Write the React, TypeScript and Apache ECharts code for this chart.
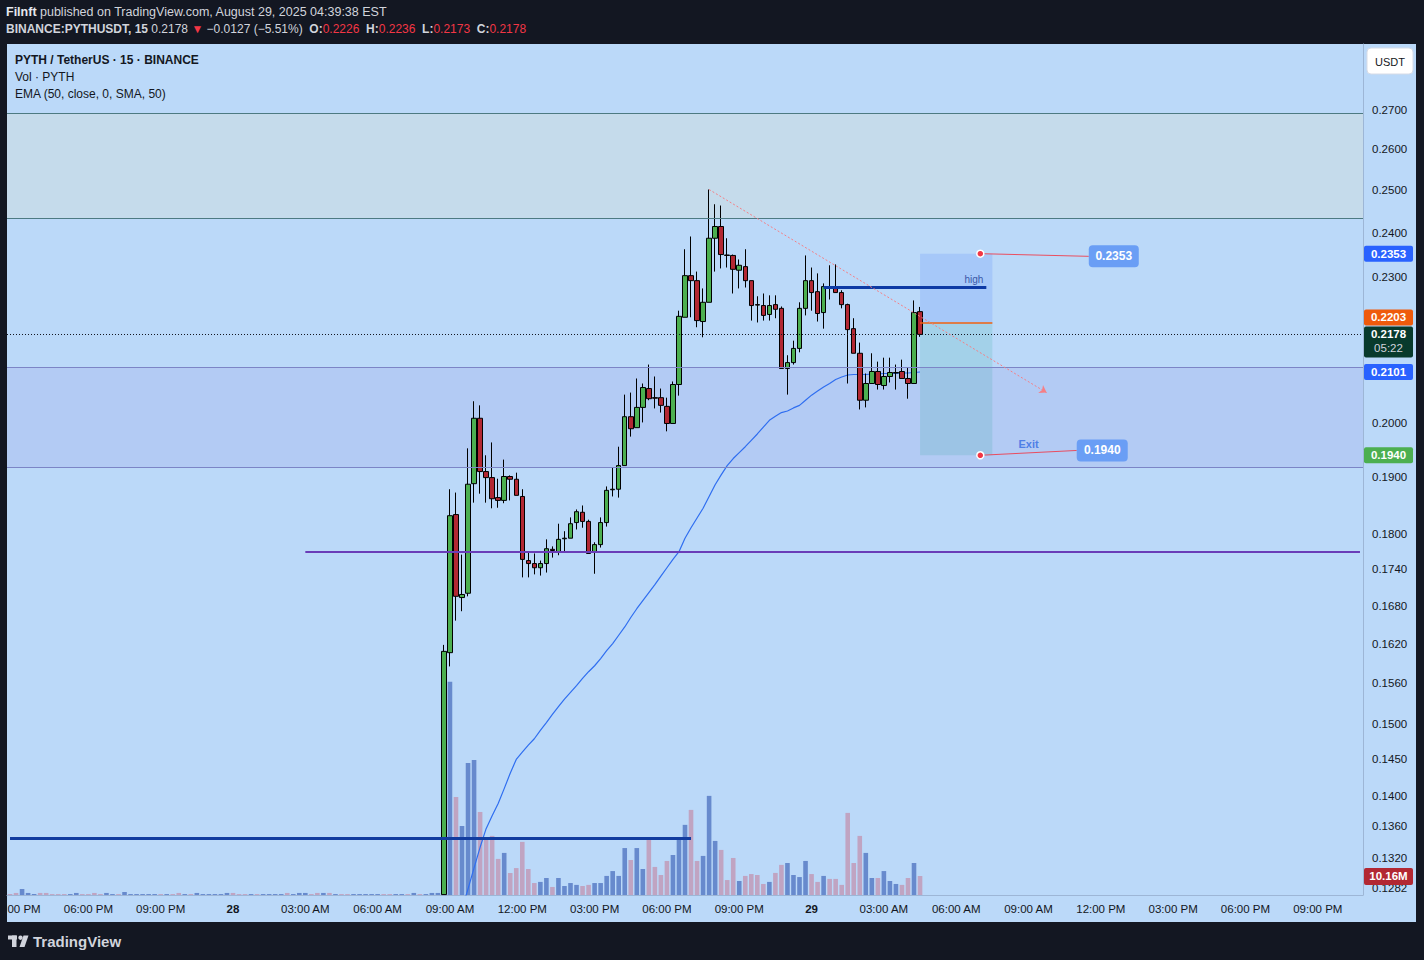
import React, { useEffect, useRef } from 'react';
import * as echarts from 'echarts';

const FONT = '"Liberation Sans", Arial, Helvetica, sans-serif';
const SLOT_MS = 15 * 60 * 1000;
const START_MS = Date.UTC(2025, 7, 27, 14, 45); // Aug 27, 02:45 PM (EST wall clock)
const SLOT_COUNT = 225;
const FIRST_CANDLE = 72;
const FIRST_EMA = 74;

// [open, close, low, high] for slots 72..151 (slot 72 opens below the visible range)
const candles: number[][] = [
  [0.1274, 0.1608, 0.1274, 0.1618],
  [0.1606, 0.1831, 0.1585, 0.1878],
  [0.1833, 0.1695, 0.1656, 0.1872],
  [0.1693, 0.1698, 0.1671, 0.1764],
  [0.1700, 0.1887, 0.1695, 0.1953],
  [0.1888, 0.2010, 0.1854, 0.2043],
  [0.2010, 0.1910, 0.1870, 0.2035],
  [0.1910, 0.1899, 0.1854, 0.1940],
  [0.1899, 0.1861, 0.1844, 0.1964],
  [0.1863, 0.1858, 0.1845, 0.1897],
  [0.1858, 0.1901, 0.1853, 0.1932],
  [0.1901, 0.1896, 0.1858, 0.1903],
  [0.1896, 0.1867, 0.1867, 0.1908],
  [0.1865, 0.1756, 0.1726, 0.1878],
  [0.1754, 0.1749, 0.1726, 0.1768],
  [0.1749, 0.1742, 0.1731, 0.1766],
  [0.1742, 0.1749, 0.1729, 0.1754],
  [0.1749, 0.1774, 0.1734, 0.1790],
  [0.1773, 0.1771, 0.1759, 0.1778],
  [0.1769, 0.1790, 0.1763, 0.1817],
  [0.1791, 0.1792, 0.1769, 0.1804],
  [0.1792, 0.1817, 0.1792, 0.1828],
  [0.1819, 0.1838, 0.1807, 0.1842],
  [0.1837, 0.1821, 0.1810, 0.1849],
  [0.1821, 0.1766, 0.1766, 0.1824],
  [0.1768, 0.1781, 0.1732, 0.1785],
  [0.1781, 0.1819, 0.1776, 0.1828],
  [0.1819, 0.1876, 0.1812, 0.1883],
  [0.1877, 0.1878, 0.1865, 0.1918],
  [0.1878, 0.1921, 0.1863, 0.1956],
  [0.1921, 0.2013, 0.1921, 0.2056],
  [0.2013, 0.1990, 0.1975, 0.2060],
  [0.1992, 0.2031, 0.1992, 0.2088],
  [0.2031, 0.2070, 0.2002, 0.2078],
  [0.2068, 0.2048, 0.2045, 0.2116],
  [0.2050, 0.2049, 0.2029, 0.2092],
  [0.2050, 0.2035, 0.2021, 0.2068],
  [0.2033, 0.2000, 0.1985, 0.2050],
  [0.2000, 0.2076, 0.2000, 0.2082],
  [0.2076, 0.2216, 0.2054, 0.2228],
  [0.2214, 0.2304, 0.2214, 0.2363],
  [0.2304, 0.2293, 0.2214, 0.2392],
  [0.2293, 0.2207, 0.2193, 0.2313],
  [0.2205, 0.2246, 0.2172, 0.2276],
  [0.2246, 0.2388, 0.2246, 0.2502],
  [0.2388, 0.2415, 0.2313, 0.2467],
  [0.2415, 0.2351, 0.2320, 0.2464],
  [0.2350, 0.2349, 0.2322, 0.2388],
  [0.2349, 0.2318, 0.2265, 0.2351],
  [0.2316, 0.2327, 0.2276, 0.2340],
  [0.2324, 0.2293, 0.2278, 0.2363],
  [0.2293, 0.2239, 0.2207, 0.2293],
  [0.2241, 0.2240, 0.2203, 0.2259],
  [0.2239, 0.2218, 0.2207, 0.2265],
  [0.2220, 0.2239, 0.2207, 0.2261],
  [0.2241, 0.2231, 0.2212, 0.2261],
  [0.2233, 0.2108, 0.2108, 0.2237],
  [0.2108, 0.2120, 0.2056, 0.2135],
  [0.2120, 0.2149, 0.2116, 0.2165],
  [0.2149, 0.2233, 0.2141, 0.2246],
  [0.2233, 0.2293, 0.2218, 0.2349],
  [0.2293, 0.2267, 0.2228, 0.2322],
  [0.2269, 0.2222, 0.2205, 0.2309],
  [0.2224, 0.2280, 0.2190, 0.2287],
  [0.2278, 0.2276, 0.2252, 0.2327],
  [0.2276, 0.2267, 0.2267, 0.2329],
  [0.2267, 0.2241, 0.2233, 0.2272],
  [0.2241, 0.2188, 0.2078, 0.2243],
  [0.2190, 0.2139, 0.2139, 0.2212],
  [0.2139, 0.2045, 0.2027, 0.2161],
  [0.2045, 0.2078, 0.2031, 0.2098],
  [0.2078, 0.2102, 0.2078, 0.2139],
  [0.2102, 0.2076, 0.2066, 0.2122],
  [0.2074, 0.2092, 0.2066, 0.2130],
  [0.2092, 0.2100, 0.2080, 0.2130],
  [0.2099, 0.2100, 0.2066, 0.2116],
  [0.2102, 0.2088, 0.2088, 0.2126],
  [0.2088, 0.2078, 0.2048, 0.2110],
  [0.2078, 0.2224, 0.2078, 0.2250],
  [0.2226, 0.2178, 0.2173, 0.2236],
];

// EMA(50) for slots 74..151
const emaValues: number[] = [
  0.1232, 0.1257, 0.1281, 0.1307, 0.1333, 0.1357, 0.1374, 0.1390, 0.1410, 0.1431,
  0.1450, 0.1460, 0.1470, 0.1479, 0.1491, 0.1502, 0.1514, 0.1525, 0.1536, 0.1546,
  0.1556, 0.1567, 0.1577, 0.1586, 0.1597, 0.1609, 0.1620, 0.1633, 0.1646, 0.1661,
  0.1675, 0.1688, 0.1701, 0.1714, 0.1728, 0.1742, 0.1756, 0.1769, 0.1792, 0.1810,
  0.1827, 0.1844, 0.1865, 0.1886, 0.1904, 0.1921, 0.1934, 0.1945, 0.1956, 0.1968,
  0.1980, 0.1993, 0.2006, 0.2014, 0.2021, 0.2024, 0.2030, 0.2035, 0.2045, 0.2055,
  0.2063, 0.2071, 0.2078, 0.2086, 0.2091, 0.2095, 0.2096, 0.2096, 0.2096, 0.2097,
  0.2097, 0.2098, 0.2098, 0.2098, 0.2099, 0.2099, 0.2100, 0.2101,
];

// volume in millions, slots 0..151
const volumes: number[] = [
  0.5, 1.1, 3.2, 1.1, 0.5, 1.1, 1.1, 0.5, 0.5, 0.5,
  0.5, 1.1, 0.5, 0.5, 1.1, 0.5, 1.1, 0.5, 0.5, 1.6,
  0.5, 0.5, 0.5, 0.5, 0.5, 0.5, 0.5, 0.5, 1.1, 0.5,
  0.5, 1.1, 0.5, 0.5, 0.5, 0.5, 1.1, 1.1, 0.5, 0.5,
  0.5, 0.5, 0.5, 0.5, 0.5, 0.5, 1.1, 0.5, 1.1, 1.1,
  0.5, 1.1, 1.1, 1.1, 0.5, 0.5, 0.5, 0.5, 0.5, 0.5,
  0.5, 0.5, 0.5, 0.5, 0.5, 0.5, 0.5, 1.1, 0.5, 0.5,
  1.1, 1.1,
  64.0, 114.0, 52.4, 36.9, 70.6, 72.2, 44.4, 31.0, 31.6, 19.3,
  22.5, 11.8, 14.4, 28.4, 13.9, 6.4, 7.0, 9.1, 4.3, 9.1,
  4.8, 6.4, 5.4, 4.8, 5.4, 6.4, 6.4, 10.2, 12.8, 10.2,
  25.1, 18.7, 25.1, 13.9, 30.0, 15.0, 10.7, 18.2, 21.4, 30.0,
  37.5, 45.5, 18.2, 20.9, 53.0, 28.9, 24.1, 8.0, 19.8, 7.5,
  10.2, 11.2, 10.7, 5.9, 7.0, 11.8, 16.1, 17.1, 10.7, 9.6,
  18.2, 11.2, 7.0, 10.2, 8.6, 8.6, 5.4, 43.9, 17.1, 31.6,
  22.5, 9.1, 9.1, 12.8, 7.5, 5.9, 5.4, 9.1, 17.1, 10.16,
];

// direction of the early (off-scale) bars: 1 = up, 0 = down
const earlyVolUp: number[] = [
  0, 0, 1, 1, 1, 0, 0, 0, 0, 0, 1, 1, 0, 0, 0, 0, 1, 1, 0, 1,
  1, 1, 1, 1, 1, 0, 1, 0, 0, 1, 0, 1, 1, 1, 1, 1, 1, 0, 0, 0,
  1, 0, 1, 1, 1, 1, 0, 1, 1, 1, 0, 0, 1, 0, 1, 0, 0, 1, 1, 1,
  1, 1, 0, 0, 1, 1, 0, 1, 0, 1, 1, 1,
];

const priceTicks: number[] = [
  0.27, 0.26, 0.25, 0.24, 0.23, 0.20, 0.19, 0.18, 0.174, 0.168,
  0.162, 0.156, 0.15, 0.145, 0.14, 0.136, 0.132, 0.1282,
];

const topZone = [0.2691, 0.2434];
const lowerZone = [0.2110, 0.1918];
const purpleLevel = 0.1769;
const blueLevel = 0.1345;
const highLevel = 0.2279;
const entryLevel = 0.2203;
const stopLevel = 0.2353;
const targetLevel = 0.1940;
const lastPrice = 0.2178;
const lastVolume = 10.16;
const emaLast = 0.2101;
const trendStart = [116, 0.2502];
const trendEnd = [172, 0.2060];
const calloutTopEnd = [179, 0.2347];
const calloutBottomEnd = [177, 0.1949];
const exitPoint = [169, 0.1962];

const UP = '#4caf50';
const DOWN = '#b22833';
const VOL_UP = '#678acd';
const VOL_DOWN = '#c0a4c2';
const BG = '#bbd9f9';
const DARK = '#131722';

const categories = Array.from({ length: SLOT_COUNT }, (_, i) =>
  new Date(START_MS + i * SLOT_MS).toISOString().slice(0, 16)
);

function timeLabel(i: number): string {
  const d = new Date(START_MS + i * SLOT_MS);
  const h = d.getUTCHours();
  const m = d.getUTCMinutes();
  if (h === 0 && m === 0) return `{d|${d.getUTCDate()}}`;
  const hh = h % 12 === 0 ? 12 : h % 12;
  const ampm = h < 12 ? 'AM' : 'PM';
  // the first label sits at the pane's left edge: only its tail is visible
  if (i === 1) return `{c|${String(m).padStart(2, '0')} ${ampm}}`;
  return `${String(hh).padStart(2, '0')}:${String(m).padStart(2, '0')} ${ampm}`;
}

export default function App() {
  const ref = useRef<HTMLDivElement>(null);

  useEffect(() => {
    document.body.style.margin = '0';
    const chart = echarts.init(ref.current!, null, { renderer: 'svg' });

    const candleData = categories.map((_, i) => {
      const c = candles[i - FIRST_CANDLE];
      return c ? c : ['-', '-', '-', '-'];
    });
    const emaData = categories.map((_, i) =>
      i >= FIRST_EMA && i < FIRST_EMA + emaValues.length ? emaValues[i - FIRST_EMA] : '-'
    );
    const volData = volumes.map((v, i) => {
      let up: boolean;
      if (i < FIRST_CANDLE) up = earlyVolUp[i] === 1;
      else {
        const c = candles[i - FIRST_CANDLE];
        up = c[1] >= c[0];
      }
      return { value: v, itemStyle: { color: up ? VOL_UP : VOL_DOWN } };
    });

    const hLine = (v: number, color: string) => ({ yAxis: v, lineStyle: { color, width: 1, type: 'solid' } });

    const option: any = {
      animation: false,
      backgroundColor: DARK,
      textStyle: { fontFamily: FONT },
      grid: { left: 7, right: 61, top: 44, bottom: 65, containLabel: false, outerBoundsMode: 'none' },
      xAxis: {
        type: 'category',
        data: categories,
        boundaryGap: true,
        axisLine: { show: true, lineStyle: { color: '#9db6d6', width: 1 } },
        axisTick: { show: false },
        splitLine: { show: false },
        axisLabel: {
          interval: (index: number) => index % 12 === 1,
          formatter: (_v: string, index: number) => timeLabel(index),
          color: DARK,
          fontSize: 11.5,
          fontFamily: FONT,
          margin: 8,
          hideOverlap: false,
          rich: {
            d: { fontWeight: 'bold', fontSize: 11.5, fontFamily: FONT, color: DARK },
            c: { fontSize: 11.5, fontFamily: FONT, color: DARK, padding: [0, 0, 0, 16] },
          },
        },
      },
      yAxis: [
        {
          type: 'log',
          logBase: 10,
          min: 0.12735,
          max: 0.2876,
          position: 'right',
          axisLine: { show: true, lineStyle: { color: '#9db6d6', width: 1 } },
          axisTick: { show: false },
          axisLabel: { show: false },
          splitLine: { show: false },
        },
        {
          type: 'value',
          min: 0,
          max: 455,
          show: false,
          splitLine: { show: false },
        },
      ],
      series: [
        {
          type: 'line',
          name: 'zones',
          data: [],
          z: 1,
          silent: true,
          markArea: {
            silent: true,
            data: [
              [{ yAxis: topZone[0], itemStyle: { color: '#c5dbeb' } }, { yAxis: topZone[1] }],
              [{ yAxis: lowerZone[0], itemStyle: { color: '#b3cbf4' } }, { yAxis: lowerZone[1] }],
              [
                { coord: [151, stopLevel], itemStyle: { color: 'rgba(41,98,255,0.14)' } },
                { coord: [163, entryLevel] },
              ],
              [
                { coord: [151, entryLevel], itemStyle: { color: 'rgba(8,153,129,0.13)' } },
                { coord: [163, targetLevel] },
              ],
            ],
          },
          markLine: {
            silent: true,
            symbol: ['none', 'none'],
            precision: 4,
            label: { show: false },
            data: [
              hLine(topZone[0], '#4d7a82'),
              hLine(topZone[1], '#4d7a82'),
              hLine(lowerZone[0], '#7c85c6'),
              hLine(lowerZone[1], '#7c85c6'),
            ],
          },
        },
        {
          type: 'bar',
          name: 'Vol',
          xAxisIndex: 0,
          yAxisIndex: 1,
          data: volData,
          barWidth: 4.6,
          z: 2,
          silent: true,
        },
        {
          type: 'line',
          name: 'EMA',
          data: emaData,
          yAxisIndex: 0,
          symbol: 'none',
          smooth: false,
          lineStyle: { color: '#2f6ef0', width: 1.2 },
          z: 3,
          silent: true,
        },
        {
          type: 'candlestick',
          name: 'PYTHUSDT',
          data: candleData,
          yAxisIndex: 0,
          barWidth: 5,
          clip: true,
          z: 4,
          silent: true,
          itemStyle: {
            color: UP,
            color0: DOWN,
            borderColor: '#000000',
            borderColor0: '#000000',
            borderWidth: 1,
          },
        },
        {
          type: 'line',
          name: 'drawings',
          data: [],
          z: 5,
          silent: true,
          markLine: {
            silent: true,
            symbol: ['none', 'none'],
            precision: 4,
            label: { show: false },
            data: [
              { yAxis: lastPrice, lineStyle: { color: DARK, width: 1, type: [1, 2] } },
              [
                { coord: [49, purpleLevel], lineStyle: { color: '#6a3db8', width: 2, type: 'solid' } },
                { coord: [224, purpleLevel] },
              ],
              [
                { coord: [0, blueLevel], lineStyle: { color: '#123c9f', width: 3, type: 'solid' } },
                { coord: [113, blueLevel] },
              ],
              [
                {
                  coord: [135, highLevel],
                  lineStyle: { color: '#0d3aa5', width: 3, type: 'solid' },
                  label: {
                    show: true,
                    formatter: 'high',
                    position: 'insideEndTop',
                    color: '#3a58a8',
                    fontSize: 10,
                    fontFamily: FONT,
                    distance: 3,
                  },
                },
                { coord: [162, highLevel] },
              ],
              [
                { coord: [151, entryLevel], lineStyle: { color: '#f06010', width: 1.5, type: 'solid' } },
                { coord: [163, entryLevel] },
              ],
              [
                { coord: trendStart, symbol: 'none', lineStyle: { color: '#f57f86', width: 1, type: [2, 2] } },
                { coord: trendEnd, symbol: 'arrow', symbolSize: 7 },
              ],
              [
                { coord: [161, stopLevel], lineStyle: { color: '#f23645', width: 1, type: 'solid', opacity: 0.85 } },
                { coord: calloutTopEnd },
              ],
              [
                { coord: [161, targetLevel], lineStyle: { color: '#f23645', width: 1, type: 'solid', opacity: 0.85 } },
                { coord: calloutBottomEnd },
              ],
            ],
          },
          markPoint: {
            silent: true,
            symbol: 'circle',
            symbolSize: 7,
            label: { show: false },
            itemStyle: { color: '#f23645', borderColor: '#ffffff', borderWidth: 1.5 },
            data: [{ coord: [161, stopLevel] }, { coord: [161, targetLevel] }],
          },
        },
      ],
    };

    chart.setOption(option);

    const py = (p: number) => chart.convertToPixel({ yAxisIndex: 0 }, p) as number;
    const vy = (v: number) => chart.convertToPixel({ yAxisIndex: 1 }, v) as number;
    const px = (i: number) => chart.convertToPixel({ xAxisIndex: 0 }, i) as number;

    const els: any[] = [];
    els.push({ type: 'rect', z: -1, silent: true, shape: { x: 7, y: 44, width: 1409, height: 878 }, style: { fill: BG } });

    // header
    els.push({
      type: 'text', x: 6, y: 12, z: 100, silent: true,
      style: {
        text: '{b|Filnft} {n|published on TradingView.com, August 29, 2025 04:39:38 EST}',
        verticalAlign: 'middle', fontSize: 12.5, fontFamily: FONT, fill: '#d1d4dc',
        rich: {
          b: { fill: '#e6e8ee', fontWeight: 'bold', fontSize: 12.5, fontFamily: FONT },
          n: { fill: '#d1d4dc', fontSize: 12.5, fontFamily: FONT },
        },
      },
    });
    els.push({
      type: 'text', x: 6, y: 29, z: 100, silent: true,
      style: {
        text: '{b|BINANCE:PYTHUSDT, 15} {n|0.2178}{r| ▼} {n|−0.0127 (−5.51%)}  {b|O:}{r|0.2226}  {b|H:}{r|0.2236}  {b|L:}{r|0.2173}  {b|C:}{r|0.2178}',
        verticalAlign: 'middle', fontSize: 12, fontFamily: FONT, fill: '#d1d4dc',
        rich: {
          b: { fill: '#d1d4dc', fontWeight: 'bold', fontSize: 12, fontFamily: FONT },
          n: { fill: '#d1d4dc', fontSize: 12, fontFamily: FONT },
          r: { fill: '#f23645', fontSize: 12, fontFamily: FONT },
        },
      },
    });

    // legend
    const legend = [
      { t: 'PYTH / TetherUS · 15 · BINANCE', y: 60, w: 'bold' },
      { t: 'Vol · PYTH', y: 77, w: 'normal' },
      { t: 'EMA (50, close, 0, SMA, 50)', y: 94, w: 'normal' },
    ];
    legend.forEach((l) =>
      els.push({
        type: 'text', x: 15, y: l.y, z: 100, silent: true,
        style: { text: l.t, fill: DARK, fontSize: 12, fontWeight: l.w, fontFamily: FONT, verticalAlign: 'middle' },
      })
    );

    // price axis tick labels
    priceTicks.forEach((t) =>
      els.push({
        type: 'text', x: 1372, y: py(t), z: 50, silent: true,
        style: { text: t.toFixed(4), fill: DARK, fontSize: 11.5, fontFamily: FONT, verticalAlign: 'middle' },
      })
    );

    // USDT button
    els.push({ type: 'rect', z: 60, silent: true, shape: { x: 1367, y: 48, width: 46, height: 26, r: 4 }, style: { fill: '#ffffff', stroke: '#d6dbe6', lineWidth: 1 } });
    els.push({ type: 'text', x: 1390, y: 61.5, z: 61, silent: true, style: { text: 'USDT', fill: DARK, fontSize: 11, fontFamily: FONT, align: 'center', verticalAlign: 'middle' } });

    // price axis boxes
    const box = (cy: number, text: string, color: string) => {
      els.push({ type: 'rect', z: 70, silent: true, shape: { x: 1364, y: cy - 8, width: 49, height: 16, r: 2 }, style: { fill: color } });
      els.push({ type: 'text', x: 1388.5, y: cy, z: 71, silent: true, style: { text, fill: '#ffffff', fontSize: 11.5, fontWeight: 'bold', fontFamily: FONT, align: 'center', verticalAlign: 'middle' } });
    };
    box(py(stopLevel), stopLevel.toFixed(4), '#2962ff');
    box(py(entryLevel) - 5, entryLevel.toFixed(4), '#ef5a0c');
    box(py(emaLast), emaLast.toFixed(4), '#2962ff');
    box(py(targetLevel), targetLevel.toFixed(4), '#4caf50');

    const lp = py(lastPrice);
    els.push({ type: 'rect', z: 70, silent: true, shape: { x: 1364, y: lp - 8, width: 49, height: 31, r: 2 }, style: { fill: '#083a2c' } });
    els.push({ type: 'text', x: 1388.5, y: lp, z: 71, silent: true, style: { text: lastPrice.toFixed(4), fill: '#ffffff', fontSize: 11.5, fontWeight: 'bold', fontFamily: FONT, align: 'center', verticalAlign: 'middle' } });
    els.push({ type: 'text', x: 1388.5, y: lp + 14, z: 71, silent: true, style: { text: '05:22', fill: '#d1d4dc', fontSize: 11.5, fontFamily: FONT, align: 'center', verticalAlign: 'middle' } });

    const lv = vy(lastVolume);
    els.push({ type: 'rect', z: 70, silent: true, shape: { x: 1364, y: lv - 8, width: 49, height: 17, r: 2 }, style: { fill: DOWN } });
    els.push({ type: 'text', x: 1388.5, y: lv + 0.5, z: 71, silent: true, style: { text: '10.16M', fill: '#ffffff', fontSize: 11.5, fontWeight: 'bold', fontFamily: FONT, align: 'center', verticalAlign: 'middle' } });

    // callout boxes on the chart
    const callout = (i: number, p: number, text: string, w: number) => {
      const x = px(i);
      const y = py(p);
      els.push({ type: 'rect', z: 80, silent: true, shape: { x, y: y - 11, width: w, height: 22, r: 4 }, style: { fill: '#6a9ef5' } });
      els.push({ type: 'text', x: x + w / 2, y, z: 81, silent: true, style: { text, fill: '#ffffff', fontSize: 12, fontWeight: 'bold', fontFamily: FONT, align: 'center', verticalAlign: 'middle' } });
    };
    callout(calloutTopEnd[0], calloutTopEnd[1], stopLevel.toFixed(4), 50);
    callout(calloutBottomEnd[0], calloutBottomEnd[1], targetLevel.toFixed(4), 51);
    els.push({ type: 'text', x: px(exitPoint[0]), y: py(exitPoint[1]), z: 81, silent: true, style: { text: 'Exit', fill: '#4f7fe6', fontSize: 11, fontWeight: 'bold', fontFamily: FONT, align: 'center', verticalAlign: 'middle' } });

    // TradingView logo
    els.push({ type: 'rect', z: 100, silent: true, shape: { x: 8, y: 935.5, width: 9, height: 4 }, style: { fill: '#d1d4dc' } });
    els.push({ type: 'rect', z: 100, silent: true, shape: { x: 12, y: 935.5, width: 4.5, height: 11.5 }, style: { fill: '#d1d4dc' } });
    els.push({ type: 'circle', z: 100, silent: true, shape: { cx: 20.5, cy: 937.7, r: 2.2 }, style: { fill: '#d1d4dc' } });
    els.push({ type: 'polygon', z: 100, silent: true, shape: { points: [[23.5, 935.5], [28.5, 935.5], [24.5, 947], [19.5, 947]] }, style: { fill: '#d1d4dc' } });
    els.push({ type: 'text', x: 33, y: 941.5, z: 100, silent: true, style: { text: 'TradingView', fill: '#d1d4dc', fontSize: 15, fontWeight: 'bold', fontFamily: FONT, verticalAlign: 'middle' } });

    chart.setOption({ graphic: { elements: els } });

    return () => chart.dispose();
  }, []);

  return <div ref={ref} style={{ width: 1424, height: 960 }} />;
}
